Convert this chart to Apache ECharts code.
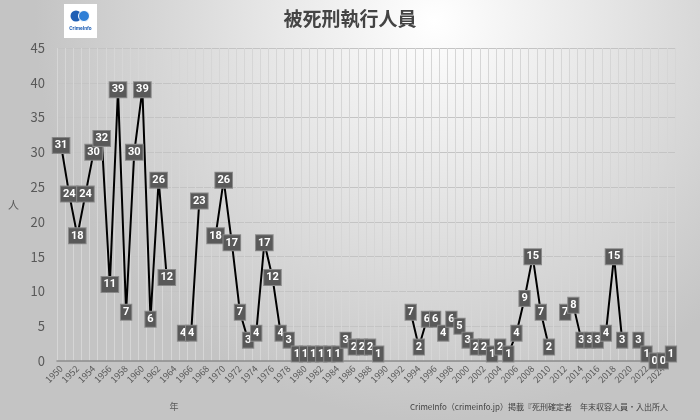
<!DOCTYPE html>
<html lang="ja" style="height: 100%">
<head>
    <meta charset="utf-8">
</head>
<body style="height: 100%; margin: 0">
<div id="container" style="width: 700px; height: 420px"></div>

<script type="text/javascript" src="https://fastly.jsdelivr.net/npm/echarts@6/dist/echarts.min.js"></script>
<script type="text/javascript">
    // 年（1950〜2025）
    var years = [];
    for (var y = 1950; y <= 2025; y++) {
        years.push(String(y));
    }
    // 被死刑執行人員（null = データなし）
    var executed = [
        31, 24, 18, 24, 30, 32, 11, 39, 7, 30,
        39, 6, 26, 12, null, 4, 4, 23, null, 18,
        26, 17, 7, 3, 4, 17, 12, 4, 3, 1,
        1, 1, 1, 1, 1, 3, 2, 2, 2, 1,
        null, null, null, 7, 2, 6, 6, 4, 6, 5,
        3, 2, 2, 1, 2, 1, 4, 9, 15, 7,
        2, null, 7, 8, 3, 3, 3, 4, 15, 3,
        null, 3, 1, 0, 0, 1
    ];
    var titleText = '被死刑執行人員';
    var sourceText = 'CrimeInfo（crimeinfo.jp）掲載『死刑確定者　年末収容人員・入出所人';

    var dom = document.getElementById('container');
    var myChart = echarts.init(dom, null, { renderer: 'canvas' });
    var font = '"Noto Sans CJK JP", "Noto Sans", sans-serif';

    var option = {
        backgroundColor: {
            type: 'radial',
            x: 0.62, y: 0.05, r: 0.95,
            colorStops: [
                { offset: 0, color: '#ffffff' },
                { offset: 1, color: '#c4c4c4' }
            ]
        },
        textStyle: { fontFamily: font },
        title: {
            text: titleText,
            left: 'center',
            top: 4,
            textStyle: { fontSize: 19, fontWeight: 'bold', color: '#444444', fontFamily: font }
        },
        grid: { left: 57, right: 25, top: 48, bottom: 59 },
        xAxis: {
            type: 'category',
            data: years,
            boundaryGap: true,
            axisLine: { lineStyle: { color: '#8c8c8c', width: 1.5 } },
            axisTick: { show: false },
            axisLabel: {
                interval: 1,
                rotate: 45,
                fontSize: 9,
                color: '#595959',
                margin: 6
            },
            splitLine: {
                show: true,
                interval: 0,
                lineStyle: { color: '#d6d6d6', width: 1 }
            }
        },
        yAxis: {
            type: 'value',
            min: 0,
            max: 45,
            interval: 5,
            name: '人',
            nameLocation: 'middle',
            nameRotate: 0,
            nameGap: 38,
            nameTextStyle: { fontSize: 11, color: '#595959' },
            axisLine: { show: false },
            axisTick: { show: false },
            axisLabel: { fontSize: 13, color: '#595959', margin: 12 },
            splitLine: { lineStyle: { color: '#c4c4c4', width: 1 } }
        },
        graphic: [
            { type: 'rect', shape: { x: 64, y: 4, width: 33, height: 34 }, style: { fill: '#ffffff' } },
            { type: 'circle', shape: { cx: 76, cy: 16, r: 5.5 }, style: { fill: '#1f5fb4' } },
            { type: 'circle', shape: { cx: 84, cy: 16, r: 5.5 }, style: { fill: '#2f7fd6', stroke: '#ffffff', lineWidth: 1 } },
            { type: 'text', style: { x: 80.5, y: 29, text: 'CrimeInfo', fontSize: 5, fontWeight: 'bold', fill: '#1f5fb4', align: 'center', verticalAlign: 'middle', fontFamily: 'Roboto, sans-serif' } },
            { type: 'text', style: { x: 174, y: 407, text: '年', fontSize: 9, fill: '#595959', align: 'center', verticalAlign: 'middle', fontFamily: font } },
            { type: 'text', style: { x: 410, y: 407, text: sourceText, fontSize: 8, fill: '#404040', align: 'left', verticalAlign: 'middle', fontFamily: font } }
        ],
        series: [
            {
                name: titleText,
                type: 'line',
                data: executed,
                connectNulls: false,
                symbol: 'circle',
                symbolSize: 1,
                showSymbol: true,
                showAllSymbol: true,
                lineStyle: { color: '#000000', width: 2 },
                itemStyle: { color: '#000000' },
                label: {
                    show: true,
                    position: 'inside',
                    color: '#ffffff',
                    fontWeight: 'bold',
                    fontSize: 11,
                    fontFamily: 'Roboto, "Noto Sans", sans-serif',
                    backgroundColor: '#595959',
                    borderColor: '#8a8a8a',
                    borderWidth: 1,
                    padding: [2, 2, 1, 2],
                    lineHeight: 12
                },
                labelLayout: { hideOverlap: false },
                animation: false
            }
        ]
    };

    myChart.setOption(option);
    window.addEventListener('resize', myChart.resize);
</script>
</body>
</html>
